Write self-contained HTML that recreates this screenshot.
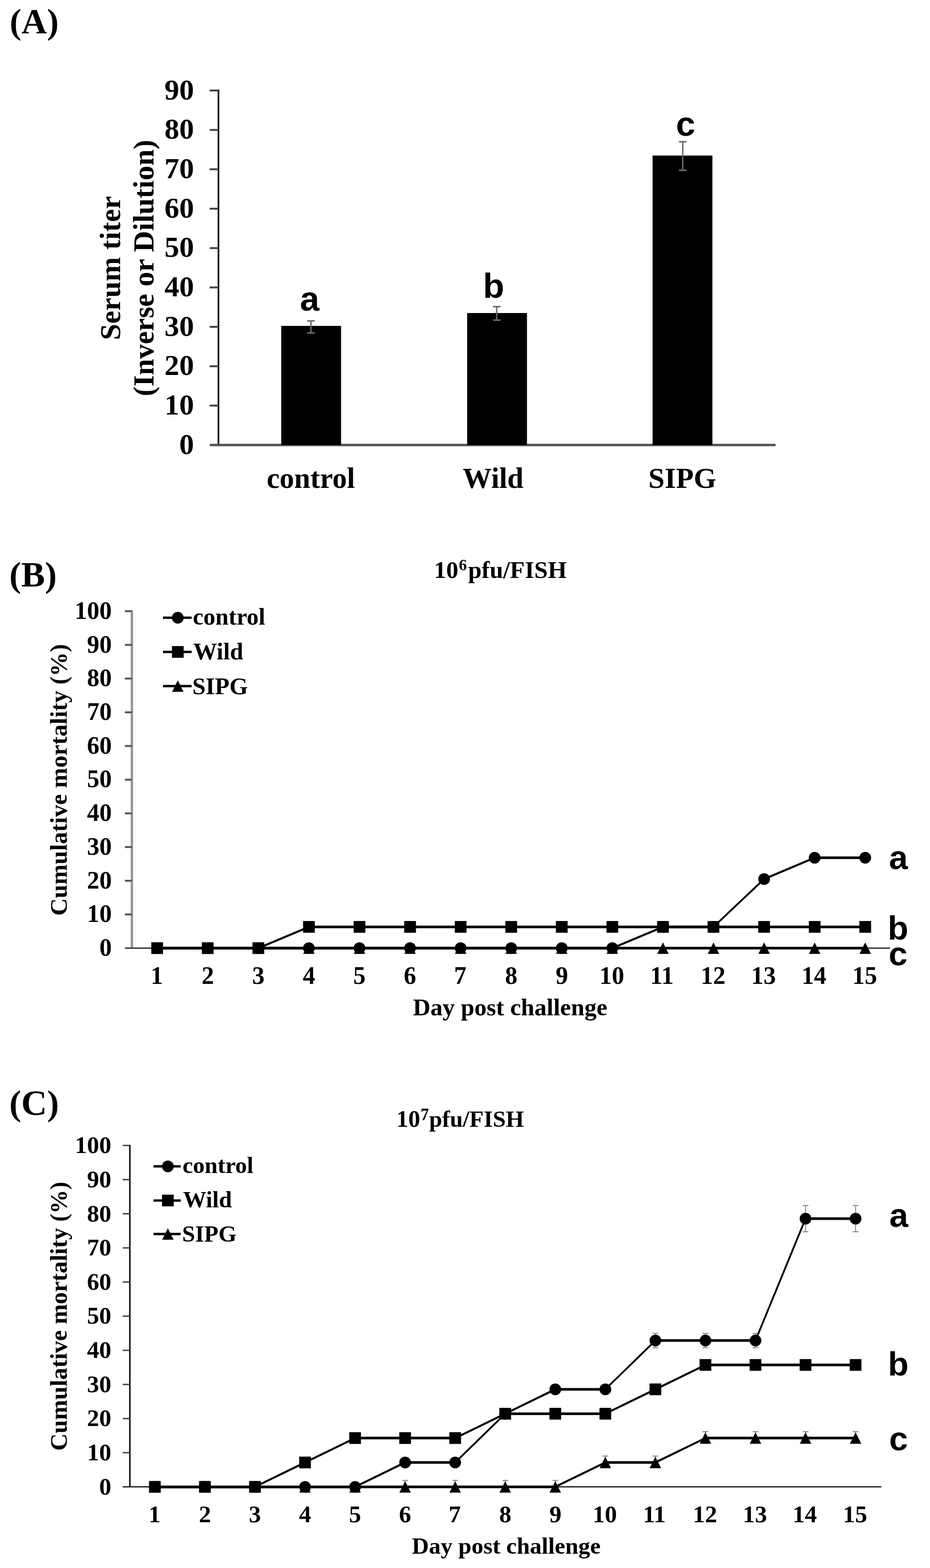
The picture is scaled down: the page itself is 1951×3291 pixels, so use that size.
<!DOCTYPE html>
<html><head><meta charset="utf-8"><title>Figure</title>
<style>html,body{margin:0;padding:0;background:#fff;width:1951px;height:3291px;overflow:hidden;} svg{display:block;}</style></head>
<body>
<svg width="1951" height="3291" viewBox="0 0 1951 3291">
<rect width="1951" height="3291" fill="#fff"/>
<text x="20.3" y="69.6" font-size="74" font-family="'Liberation Serif', 'Times New Roman', serif" font-weight="bold">(A)</text>
<line x1="458.3" y1="188.0" x2="458.3" y2="934.0" stroke="#111" stroke-width="3.5"/>
<text x="376.1" y="952.7" font-size="62" font-family="'Liberation Serif', 'Times New Roman', serif" font-weight="bold">0</text>
<line x1="440.0" y1="851.3" x2="458.3" y2="851.3" stroke="#444" stroke-width="4"/>
<text x="345.1" y="870.0" font-size="62" font-family="'Liberation Serif', 'Times New Roman', serif" font-weight="bold">10</text>
<line x1="440.0" y1="768.7" x2="458.3" y2="768.7" stroke="#444" stroke-width="4"/>
<text x="345.1" y="787.4" font-size="62" font-family="'Liberation Serif', 'Times New Roman', serif" font-weight="bold">20</text>
<line x1="440.0" y1="686.0" x2="458.3" y2="686.0" stroke="#444" stroke-width="4"/>
<text x="345.1" y="704.7" font-size="62" font-family="'Liberation Serif', 'Times New Roman', serif" font-weight="bold">30</text>
<line x1="440.0" y1="603.3" x2="458.3" y2="603.3" stroke="#444" stroke-width="4"/>
<text x="345.1" y="622.0" font-size="62" font-family="'Liberation Serif', 'Times New Roman', serif" font-weight="bold">40</text>
<line x1="440.0" y1="520.7" x2="458.3" y2="520.7" stroke="#444" stroke-width="4"/>
<text x="345.1" y="539.4" font-size="62" font-family="'Liberation Serif', 'Times New Roman', serif" font-weight="bold">50</text>
<line x1="440.0" y1="438.0" x2="458.3" y2="438.0" stroke="#444" stroke-width="4"/>
<text x="345.1" y="456.7" font-size="62" font-family="'Liberation Serif', 'Times New Roman', serif" font-weight="bold">60</text>
<line x1="440.0" y1="355.3" x2="458.3" y2="355.3" stroke="#444" stroke-width="4"/>
<text x="345.1" y="374.0" font-size="62" font-family="'Liberation Serif', 'Times New Roman', serif" font-weight="bold">70</text>
<line x1="440.0" y1="272.7" x2="458.3" y2="272.7" stroke="#444" stroke-width="4"/>
<text x="345.1" y="291.4" font-size="62" font-family="'Liberation Serif', 'Times New Roman', serif" font-weight="bold">80</text>
<line x1="440.0" y1="190.0" x2="458.3" y2="190.0" stroke="#444" stroke-width="4"/>
<text x="345.1" y="208.7" font-size="62" font-family="'Liberation Serif', 'Times New Roman', serif" font-weight="bold">90</text>
<line x1="440.0" y1="934.0" x2="1627.0" y2="934.0" stroke="#505050" stroke-width="5"/>
<rect x="590.0" y="684.0" width="125.5" height="250.0" fill="#000"/>
<rect x="980.0" y="657.0" width="125.5" height="277.0" fill="#000"/>
<rect x="1369.0" y="326.5" width="125.5" height="607.5" fill="#000"/>
<line x1="652.3" y1="673.5" x2="652.3" y2="698.8" stroke="#6a6a6a" stroke-width="3"/>
<line x1="644.3" y1="673.5" x2="660.3" y2="673.5" stroke="#6a6a6a" stroke-width="3.2"/>
<line x1="644.3" y1="698.8" x2="660.3" y2="698.8" stroke="#6a6a6a" stroke-width="3.2"/>
<line x1="1042.0" y1="643.6" x2="1042.0" y2="671.9" stroke="#6a6a6a" stroke-width="3"/>
<line x1="1034.0" y1="643.6" x2="1050.0" y2="643.6" stroke="#6a6a6a" stroke-width="3.2"/>
<line x1="1034.0" y1="671.9" x2="1050.0" y2="671.9" stroke="#6a6a6a" stroke-width="3.2"/>
<line x1="1432.3" y1="297.5" x2="1432.3" y2="357.5" stroke="#6a6a6a" stroke-width="3"/>
<line x1="1424.3" y1="297.5" x2="1440.3" y2="297.5" stroke="#6a6a6a" stroke-width="3.2"/>
<line x1="1424.3" y1="357.5" x2="1440.3" y2="357.5" stroke="#6a6a6a" stroke-width="3.2"/>
<text x="629.3" y="652.3" font-size="73" font-family="'Liberation Sans', Arial, sans-serif" font-weight="bold">a</text>
<text x="1013.2" y="625.1" font-size="73" font-family="'Liberation Sans', Arial, sans-serif" font-weight="bold">b</text>
<text x="1418.0" y="284.7" font-size="73" font-family="'Liberation Sans', Arial, sans-serif" font-weight="bold">c</text>
<text x="559.5" y="1024.0" font-size="61" font-family="'Liberation Serif', 'Times New Roman', serif" font-weight="bold">control</text>
<text x="970.5" y="1024.0" font-size="61" font-family="'Liberation Serif', 'Times New Roman', serif" font-weight="bold">Wild</text>
<text x="1360.3" y="1024.0" font-size="61" font-family="'Liberation Serif', 'Times New Roman', serif" font-weight="bold">SIPG</text>
<g transform="translate(251.5,562.5) rotate(-90)">
<text x="0.0" y="0.0" font-size="61.5" font-family="'Liberation Serif', 'Times New Roman', serif" font-weight="bold" text-anchor="middle">Serum titer</text>
<text x="0.0" y="70.5" font-size="61.5" font-family="'Liberation Serif', 'Times New Roman', serif" font-weight="bold" text-anchor="middle">(Inverse or Dilution)</text>
</g>
<text x="19.6" y="1230.5" font-size="74.7" font-family="'Liberation Serif', 'Times New Roman', serif" font-weight="bold">(B)</text>
<text y="1213.3" font-family="'Liberation Serif', 'Times New Roman', serif" font-weight="bold"><tspan x="910.5" font-size="51">10</tspan><tspan x="962.4" y="1197" font-size="34">6</tspan><tspan x="981.9" y="1213.3" font-size="51">pfu/FISH</tspan></text>
<line x1="276.7" y1="1281.3" x2="276.7" y2="1990.0" stroke="#959595" stroke-width="5"/>
<text x="208.5" y="2006.0" font-size="52" font-family="'Liberation Serif', 'Times New Roman', serif" font-weight="bold">0</text>
<line x1="262.0" y1="1919.3" x2="276.7" y2="1919.3" stroke="#555" stroke-width="4"/>
<text x="182.5" y="1935.3" font-size="52" font-family="'Liberation Serif', 'Times New Roman', serif" font-weight="bold">10</text>
<line x1="262.0" y1="1848.6" x2="276.7" y2="1848.6" stroke="#555" stroke-width="4"/>
<text x="182.5" y="1864.6" font-size="52" font-family="'Liberation Serif', 'Times New Roman', serif" font-weight="bold">20</text>
<line x1="262.0" y1="1777.8" x2="276.7" y2="1777.8" stroke="#555" stroke-width="4"/>
<text x="182.5" y="1793.8" font-size="52" font-family="'Liberation Serif', 'Times New Roman', serif" font-weight="bold">30</text>
<line x1="262.0" y1="1707.1" x2="276.7" y2="1707.1" stroke="#555" stroke-width="4"/>
<text x="182.5" y="1723.1" font-size="52" font-family="'Liberation Serif', 'Times New Roman', serif" font-weight="bold">40</text>
<line x1="262.0" y1="1636.4" x2="276.7" y2="1636.4" stroke="#555" stroke-width="4"/>
<text x="182.5" y="1652.4" font-size="52" font-family="'Liberation Serif', 'Times New Roman', serif" font-weight="bold">50</text>
<line x1="262.0" y1="1565.7" x2="276.7" y2="1565.7" stroke="#555" stroke-width="4"/>
<text x="182.5" y="1581.7" font-size="52" font-family="'Liberation Serif', 'Times New Roman', serif" font-weight="bold">60</text>
<line x1="262.0" y1="1495.0" x2="276.7" y2="1495.0" stroke="#555" stroke-width="4"/>
<text x="182.5" y="1511.0" font-size="52" font-family="'Liberation Serif', 'Times New Roman', serif" font-weight="bold">70</text>
<line x1="262.0" y1="1424.2" x2="276.7" y2="1424.2" stroke="#555" stroke-width="4"/>
<text x="182.5" y="1440.2" font-size="52" font-family="'Liberation Serif', 'Times New Roman', serif" font-weight="bold">80</text>
<line x1="262.0" y1="1353.5" x2="276.7" y2="1353.5" stroke="#555" stroke-width="4"/>
<text x="182.5" y="1369.5" font-size="52" font-family="'Liberation Serif', 'Times New Roman', serif" font-weight="bold">90</text>
<line x1="262.0" y1="1282.8" x2="276.7" y2="1282.8" stroke="#555" stroke-width="4"/>
<text x="156.5" y="1298.8" font-size="52" font-family="'Liberation Serif', 'Times New Roman', serif" font-weight="bold">100</text>
<line x1="262.0" y1="1990.0" x2="1867.0" y2="1990.0" stroke="#333" stroke-width="3"/>
<text x="316.0" y="2064.5" font-size="52" font-family="'Liberation Serif', 'Times New Roman', serif" font-weight="bold">1</text>
<text x="422.9" y="2064.5" font-size="52" font-family="'Liberation Serif', 'Times New Roman', serif" font-weight="bold">2</text>
<text x="528.9" y="2064.5" font-size="52" font-family="'Liberation Serif', 'Times New Roman', serif" font-weight="bold">3</text>
<text x="635.2" y="2064.5" font-size="52" font-family="'Liberation Serif', 'Times New Roman', serif" font-weight="bold">4</text>
<text x="741.1" y="2064.5" font-size="52" font-family="'Liberation Serif', 'Times New Roman', serif" font-weight="bold">5</text>
<text x="847.1" y="2064.5" font-size="52" font-family="'Liberation Serif', 'Times New Roman', serif" font-weight="bold">6</text>
<text x="952.5" y="2064.5" font-size="52" font-family="'Liberation Serif', 'Times New Roman', serif" font-weight="bold">7</text>
<text x="1059.5" y="2064.5" font-size="52" font-family="'Liberation Serif', 'Times New Roman', serif" font-weight="bold">8</text>
<text x="1165.8" y="2064.5" font-size="52" font-family="'Liberation Serif', 'Times New Roman', serif" font-weight="bold">9</text>
<text x="1257.6" y="2064.5" font-size="52" font-family="'Liberation Serif', 'Times New Roman', serif" font-weight="bold">10</text>
<text x="1364.0" y="2064.5" font-size="52" font-family="'Liberation Serif', 'Times New Roman', serif" font-weight="bold">11</text>
<text x="1469.9" y="2064.5" font-size="52" font-family="'Liberation Serif', 'Times New Roman', serif" font-weight="bold">12</text>
<text x="1575.8" y="2064.5" font-size="52" font-family="'Liberation Serif', 'Times New Roman', serif" font-weight="bold">13</text>
<text x="1681.5" y="2064.5" font-size="52" font-family="'Liberation Serif', 'Times New Roman', serif" font-weight="bold">14</text>
<text x="1788.0" y="2064.5" font-size="52" font-family="'Liberation Serif', 'Times New Roman', serif" font-weight="bold">15</text>
<line x1="329.8" y1="1990.0" x2="435.8" y2="1990.0" stroke="#000" stroke-width="5.50" stroke-linecap="round"/>
<line x1="435.8" y1="1990.0" x2="542.0" y2="1990.0" stroke="#000" stroke-width="5.50" stroke-linecap="round"/>
<line x1="542.0" y1="1990.0" x2="648.0" y2="1990.0" stroke="#000" stroke-width="5.50" stroke-linecap="round"/>
<line x1="648.0" y1="1990.0" x2="754.1" y2="1990.0" stroke="#000" stroke-width="5.50" stroke-linecap="round"/>
<line x1="754.1" y1="1990.0" x2="860.2" y2="1990.0" stroke="#000" stroke-width="5.50" stroke-linecap="round"/>
<line x1="860.2" y1="1990.0" x2="966.3" y2="1990.0" stroke="#000" stroke-width="5.50" stroke-linecap="round"/>
<line x1="966.3" y1="1990.0" x2="1072.5" y2="1990.0" stroke="#000" stroke-width="5.50" stroke-linecap="round"/>
<line x1="1072.5" y1="1990.0" x2="1178.5" y2="1990.0" stroke="#000" stroke-width="5.50" stroke-linecap="round"/>
<line x1="1178.5" y1="1990.0" x2="1284.6" y2="1990.0" stroke="#000" stroke-width="5.50" stroke-linecap="round"/>
<line x1="1284.6" y1="1990.0" x2="1390.8" y2="1990.0" stroke="#000" stroke-width="5.50" stroke-linecap="round"/>
<line x1="1390.8" y1="1990.0" x2="1496.8" y2="1990.0" stroke="#000" stroke-width="5.50" stroke-linecap="round"/>
<line x1="1496.8" y1="1990.0" x2="1603.0" y2="1990.0" stroke="#000" stroke-width="5.50" stroke-linecap="round"/>
<line x1="1603.0" y1="1990.0" x2="1709.0" y2="1990.0" stroke="#000" stroke-width="5.50" stroke-linecap="round"/>
<line x1="1709.0" y1="1990.0" x2="1815.1" y2="1990.0" stroke="#000" stroke-width="5.50" stroke-linecap="round"/>
<line x1="329.8" y1="1990.0" x2="435.8" y2="1990.0" stroke="#000" stroke-width="5.50" stroke-linecap="round"/>
<line x1="435.8" y1="1990.0" x2="542.0" y2="1990.0" stroke="#000" stroke-width="5.50" stroke-linecap="round"/>
<line x1="542.0" y1="1990.0" x2="648.0" y2="1945.4" stroke="#000" stroke-width="4.37" stroke-linecap="round"/>
<line x1="648.0" y1="1945.4" x2="754.1" y2="1945.4" stroke="#000" stroke-width="5.50" stroke-linecap="round"/>
<line x1="754.1" y1="1945.4" x2="860.2" y2="1945.4" stroke="#000" stroke-width="5.50" stroke-linecap="round"/>
<line x1="860.2" y1="1945.4" x2="966.3" y2="1945.4" stroke="#000" stroke-width="5.50" stroke-linecap="round"/>
<line x1="966.3" y1="1945.4" x2="1072.5" y2="1945.4" stroke="#000" stroke-width="5.50" stroke-linecap="round"/>
<line x1="1072.5" y1="1945.4" x2="1178.5" y2="1945.4" stroke="#000" stroke-width="5.50" stroke-linecap="round"/>
<line x1="1178.5" y1="1945.4" x2="1284.6" y2="1945.4" stroke="#000" stroke-width="5.50" stroke-linecap="round"/>
<line x1="1284.6" y1="1945.4" x2="1390.8" y2="1945.4" stroke="#000" stroke-width="5.50" stroke-linecap="round"/>
<line x1="1390.8" y1="1945.4" x2="1496.8" y2="1945.4" stroke="#000" stroke-width="5.50" stroke-linecap="round"/>
<line x1="1496.8" y1="1945.4" x2="1603.0" y2="1945.4" stroke="#000" stroke-width="5.50" stroke-linecap="round"/>
<line x1="1603.0" y1="1945.4" x2="1709.0" y2="1945.4" stroke="#000" stroke-width="5.50" stroke-linecap="round"/>
<line x1="1709.0" y1="1945.4" x2="1815.1" y2="1945.4" stroke="#000" stroke-width="5.50" stroke-linecap="round"/>
<line x1="329.8" y1="1990.0" x2="435.8" y2="1990.0" stroke="#000" stroke-width="5.50" stroke-linecap="round"/>
<line x1="435.8" y1="1990.0" x2="542.0" y2="1990.0" stroke="#000" stroke-width="5.50" stroke-linecap="round"/>
<line x1="542.0" y1="1990.0" x2="648.0" y2="1990.0" stroke="#000" stroke-width="5.50" stroke-linecap="round"/>
<line x1="648.0" y1="1990.0" x2="754.1" y2="1990.0" stroke="#000" stroke-width="5.50" stroke-linecap="round"/>
<line x1="754.1" y1="1990.0" x2="860.2" y2="1990.0" stroke="#000" stroke-width="5.50" stroke-linecap="round"/>
<line x1="860.2" y1="1990.0" x2="966.3" y2="1990.0" stroke="#000" stroke-width="5.50" stroke-linecap="round"/>
<line x1="966.3" y1="1990.0" x2="1072.5" y2="1990.0" stroke="#000" stroke-width="5.50" stroke-linecap="round"/>
<line x1="1072.5" y1="1990.0" x2="1178.5" y2="1990.0" stroke="#000" stroke-width="5.50" stroke-linecap="round"/>
<line x1="1178.5" y1="1990.0" x2="1284.6" y2="1990.0" stroke="#000" stroke-width="5.50" stroke-linecap="round"/>
<line x1="1284.6" y1="1990.0" x2="1390.8" y2="1945.4" stroke="#000" stroke-width="4.37" stroke-linecap="round"/>
<line x1="1390.8" y1="1945.4" x2="1496.8" y2="1945.4" stroke="#000" stroke-width="5.50" stroke-linecap="round"/>
<line x1="1496.8" y1="1945.4" x2="1603.0" y2="1845.0" stroke="#000" stroke-width="3.80" stroke-linecap="round"/>
<line x1="1603.0" y1="1845.0" x2="1709.0" y2="1800.3" stroke="#000" stroke-width="4.37" stroke-linecap="round"/>
<line x1="1709.0" y1="1800.3" x2="1815.1" y2="1800.3" stroke="#000" stroke-width="5.50" stroke-linecap="round"/>
<polygon points="329.8,1978.0 341.8,2002.0 317.8,2002.0" fill="#000"/>
<polygon points="435.8,1978.0 447.8,2002.0 423.8,2002.0" fill="#000"/>
<polygon points="542.0,1978.0 554.0,2002.0 530.0,2002.0" fill="#000"/>
<polygon points="648.0,1978.0 660.0,2002.0 636.0,2002.0" fill="#000"/>
<polygon points="754.1,1978.0 766.1,2002.0 742.1,2002.0" fill="#000"/>
<polygon points="860.2,1978.0 872.2,2002.0 848.2,2002.0" fill="#000"/>
<polygon points="966.3,1978.0 978.3,2002.0 954.3,2002.0" fill="#000"/>
<polygon points="1072.5,1978.0 1084.5,2002.0 1060.5,2002.0" fill="#000"/>
<polygon points="1178.5,1978.0 1190.5,2002.0 1166.5,2002.0" fill="#000"/>
<polygon points="1284.6,1978.0 1296.6,2002.0 1272.6,2002.0" fill="#000"/>
<polygon points="1390.8,1978.0 1402.8,2002.0 1378.8,2002.0" fill="#000"/>
<polygon points="1496.8,1978.0 1508.8,2002.0 1484.8,2002.0" fill="#000"/>
<polygon points="1603.0,1978.0 1615.0,2002.0 1591.0,2002.0" fill="#000"/>
<polygon points="1709.0,1978.0 1721.0,2002.0 1697.0,2002.0" fill="#000"/>
<polygon points="1815.1,1978.0 1827.1,2002.0 1803.1,2002.0" fill="#000"/>
<rect x="317.4" y="1977.7" width="24.6" height="24.6" fill="#000"/>
<rect x="423.5" y="1977.7" width="24.6" height="24.6" fill="#000"/>
<rect x="529.7" y="1977.7" width="24.6" height="24.6" fill="#000"/>
<rect x="635.8" y="1933.1" width="24.6" height="24.6" fill="#000"/>
<rect x="741.9" y="1933.1" width="24.6" height="24.6" fill="#000"/>
<rect x="848.0" y="1933.1" width="24.6" height="24.6" fill="#000"/>
<rect x="954.0" y="1933.1" width="24.6" height="24.6" fill="#000"/>
<rect x="1060.2" y="1933.1" width="24.6" height="24.6" fill="#000"/>
<rect x="1166.2" y="1933.1" width="24.6" height="24.6" fill="#000"/>
<rect x="1272.3" y="1933.1" width="24.6" height="24.6" fill="#000"/>
<rect x="1378.5" y="1933.1" width="24.6" height="24.6" fill="#000"/>
<rect x="1484.5" y="1933.1" width="24.6" height="24.6" fill="#000"/>
<rect x="1590.7" y="1933.1" width="24.6" height="24.6" fill="#000"/>
<rect x="1696.8" y="1933.1" width="24.6" height="24.6" fill="#000"/>
<rect x="1802.8" y="1933.1" width="24.6" height="24.6" fill="#000"/>
<circle cx="329.8" cy="1990.0" r="12.3" fill="#000"/>
<circle cx="435.8" cy="1990.0" r="12.3" fill="#000"/>
<circle cx="542.0" cy="1990.0" r="12.3" fill="#000"/>
<circle cx="648.0" cy="1990.0" r="12.3" fill="#000"/>
<circle cx="754.1" cy="1990.0" r="12.3" fill="#000"/>
<circle cx="860.2" cy="1990.0" r="12.3" fill="#000"/>
<circle cx="966.3" cy="1990.0" r="12.3" fill="#000"/>
<circle cx="1072.5" cy="1990.0" r="12.3" fill="#000"/>
<circle cx="1178.5" cy="1990.0" r="12.3" fill="#000"/>
<circle cx="1284.6" cy="1990.0" r="12.3" fill="#000"/>
<circle cx="1390.8" cy="1945.4" r="12.3" fill="#000"/>
<circle cx="1496.8" cy="1945.4" r="12.3" fill="#000"/>
<circle cx="1603.0" cy="1845.0" r="12.3" fill="#000"/>
<circle cx="1709.0" cy="1800.3" r="12.3" fill="#000"/>
<circle cx="1815.1" cy="1800.3" r="12.3" fill="#000"/>
<line x1="342.0" y1="1296.5" x2="402.0" y2="1296.5" stroke="#000" stroke-width="5"/>
<circle cx="373.0" cy="1296.5" r="12.3" fill="#000"/>
<text x="404.5" y="1311.4" font-size="50" font-family="'Liberation Serif', 'Times New Roman', serif" font-weight="bold">control</text>
<line x1="342.0" y1="1368.3" x2="402.0" y2="1368.3" stroke="#000" stroke-width="5"/>
<rect x="360.7" y="1356.0" width="24.6" height="24.6" fill="#000"/>
<text x="405.5" y="1383.6" font-size="50" font-family="'Liberation Serif', 'Times New Roman', serif" font-weight="bold">Wild</text>
<line x1="342.0" y1="1440.0" x2="402.0" y2="1440.0" stroke="#000" stroke-width="5"/>
<polygon points="373.0,1428.0 385.0,1452.0 361.0,1452.0" fill="#000"/>
<text x="403.5" y="1456.7" font-size="50" font-family="'Liberation Serif', 'Times New Roman', serif" font-weight="bold">SIPG</text>
<text x="1864.9" y="1823.7" font-size="71" font-family="'Liberation Sans', Arial, sans-serif" font-weight="bold">a</text>
<text x="1862.3" y="1972.3" font-size="71" font-family="'Liberation Sans', Arial, sans-serif" font-weight="bold">b</text>
<text x="1864.2" y="2026.3" font-size="71" font-family="'Liberation Sans', Arial, sans-serif" font-weight="bold">c</text>
<text x="866.2" y="2131.2" font-size="51" font-family="'Liberation Serif', 'Times New Roman', serif" font-weight="bold">Day post challenge</text>
<g transform="translate(140.3,1636.9) rotate(-90)">
<text x="0.0" y="0.0" font-size="51.1" font-family="'Liberation Serif', 'Times New Roman', serif" font-weight="bold" text-anchor="middle">Cumulative mortality (%)</text>
</g>
<text x="19.6" y="2340.0" font-size="75" font-family="'Liberation Serif', 'Times New Roman', serif" font-weight="bold">(C)</text>
<text y="2364.6" font-family="'Liberation Serif', 'Times New Roman', serif" font-weight="bold"><tspan x="831.6" font-size="50">10</tspan><tspan x="882.2" y="2350.6" font-size="35">7</tspan><tspan x="900.3" y="2364.6" font-size="49">pfu/FISH</tspan></text>
<line x1="272.4" y1="2402.7" x2="272.4" y2="3120.7" stroke="#111" stroke-width="3.2"/>
<text x="207.9" y="3136.7" font-size="51" font-family="'Liberation Serif', 'Times New Roman', serif" font-weight="bold">0</text>
<line x1="257.6" y1="3049.0" x2="272.4" y2="3049.0" stroke="#444" stroke-width="3"/>
<text x="182.4" y="3065.0" font-size="51" font-family="'Liberation Serif', 'Times New Roman', serif" font-weight="bold">10</text>
<line x1="257.6" y1="2977.4" x2="272.4" y2="2977.4" stroke="#444" stroke-width="3"/>
<text x="182.4" y="2993.4" font-size="51" font-family="'Liberation Serif', 'Times New Roman', serif" font-weight="bold">20</text>
<line x1="257.6" y1="2905.8" x2="272.4" y2="2905.8" stroke="#444" stroke-width="3"/>
<text x="182.4" y="2921.8" font-size="51" font-family="'Liberation Serif', 'Times New Roman', serif" font-weight="bold">30</text>
<line x1="257.6" y1="2834.1" x2="272.4" y2="2834.1" stroke="#444" stroke-width="3"/>
<text x="182.4" y="2850.1" font-size="51" font-family="'Liberation Serif', 'Times New Roman', serif" font-weight="bold">40</text>
<line x1="257.6" y1="2762.4" x2="272.4" y2="2762.4" stroke="#444" stroke-width="3"/>
<text x="182.4" y="2778.4" font-size="51" font-family="'Liberation Serif', 'Times New Roman', serif" font-weight="bold">50</text>
<line x1="257.6" y1="2690.8" x2="272.4" y2="2690.8" stroke="#444" stroke-width="3"/>
<text x="182.4" y="2706.8" font-size="51" font-family="'Liberation Serif', 'Times New Roman', serif" font-weight="bold">60</text>
<line x1="257.6" y1="2619.1" x2="272.4" y2="2619.1" stroke="#444" stroke-width="3"/>
<text x="182.4" y="2635.1" font-size="51" font-family="'Liberation Serif', 'Times New Roman', serif" font-weight="bold">70</text>
<line x1="257.6" y1="2547.5" x2="272.4" y2="2547.5" stroke="#444" stroke-width="3"/>
<text x="182.4" y="2563.5" font-size="51" font-family="'Liberation Serif', 'Times New Roman', serif" font-weight="bold">80</text>
<line x1="257.6" y1="2475.8" x2="272.4" y2="2475.8" stroke="#444" stroke-width="3"/>
<text x="182.4" y="2491.8" font-size="51" font-family="'Liberation Serif', 'Times New Roman', serif" font-weight="bold">90</text>
<line x1="257.6" y1="2404.2" x2="272.4" y2="2404.2" stroke="#444" stroke-width="3"/>
<text x="156.9" y="2420.2" font-size="51" font-family="'Liberation Serif', 'Times New Roman', serif" font-weight="bold">100</text>
<line x1="257.6" y1="3120.7" x2="1848.8" y2="3120.7" stroke="#222" stroke-width="2.8"/>
<text x="311.4" y="3194.8" font-size="51" font-family="'Liberation Serif', 'Times New Roman', serif" font-weight="bold">1</text>
<text x="417.2" y="3194.8" font-size="51" font-family="'Liberation Serif', 'Times New Roman', serif" font-weight="bold">2</text>
<text x="522.1" y="3194.8" font-size="51" font-family="'Liberation Serif', 'Times New Roman', serif" font-weight="bold">3</text>
<text x="627.3" y="3194.8" font-size="51" font-family="'Liberation Serif', 'Times New Roman', serif" font-weight="bold">4</text>
<text x="732.1" y="3194.8" font-size="51" font-family="'Liberation Serif', 'Times New Roman', serif" font-weight="bold">5</text>
<text x="837.0" y="3194.8" font-size="51" font-family="'Liberation Serif', 'Times New Roman', serif" font-weight="bold">6</text>
<text x="941.3" y="3194.8" font-size="51" font-family="'Liberation Serif', 'Times New Roman', serif" font-weight="bold">7</text>
<text x="1047.2" y="3194.8" font-size="51" font-family="'Liberation Serif', 'Times New Roman', serif" font-weight="bold">8</text>
<text x="1152.4" y="3194.8" font-size="51" font-family="'Liberation Serif', 'Times New Roman', serif" font-weight="bold">9</text>
<text x="1243.3" y="3194.8" font-size="51" font-family="'Liberation Serif', 'Times New Roman', serif" font-weight="bold">10</text>
<text x="1348.7" y="3194.8" font-size="51" font-family="'Liberation Serif', 'Times New Roman', serif" font-weight="bold">11</text>
<text x="1453.5" y="3194.8" font-size="51" font-family="'Liberation Serif', 'Times New Roman', serif" font-weight="bold">12</text>
<text x="1558.2" y="3194.8" font-size="51" font-family="'Liberation Serif', 'Times New Roman', serif" font-weight="bold">13</text>
<text x="1662.8" y="3194.8" font-size="51" font-family="'Liberation Serif', 'Times New Roman', serif" font-weight="bold">14</text>
<text x="1768.3" y="3194.8" font-size="51" font-family="'Liberation Serif', 'Times New Roman', serif" font-weight="bold">15</text>
<line x1="1374.9" y1="2798.6" x2="1374.9" y2="2828.6" stroke="#8a8a8a" stroke-width="2"/>
<line x1="1368.9" y1="2798.6" x2="1380.9" y2="2798.6" stroke="#8a8a8a" stroke-width="2.2"/>
<line x1="1368.9" y1="2828.6" x2="1380.9" y2="2828.6" stroke="#8a8a8a" stroke-width="2.2"/>
<line x1="1479.9" y1="2798.6" x2="1479.9" y2="2828.6" stroke="#8a8a8a" stroke-width="2"/>
<line x1="1473.9" y1="2798.6" x2="1485.9" y2="2798.6" stroke="#8a8a8a" stroke-width="2.2"/>
<line x1="1473.9" y1="2828.6" x2="1485.9" y2="2828.6" stroke="#8a8a8a" stroke-width="2.2"/>
<line x1="1584.9" y1="2798.6" x2="1584.9" y2="2828.6" stroke="#8a8a8a" stroke-width="2"/>
<line x1="1578.9" y1="2798.6" x2="1590.9" y2="2798.6" stroke="#8a8a8a" stroke-width="2.2"/>
<line x1="1578.9" y1="2828.6" x2="1590.9" y2="2828.6" stroke="#8a8a8a" stroke-width="2.2"/>
<line x1="1689.9" y1="2530.2" x2="1689.9" y2="2585.2" stroke="#8a8a8a" stroke-width="2"/>
<line x1="1683.9" y1="2530.2" x2="1695.9" y2="2530.2" stroke="#8a8a8a" stroke-width="2.2"/>
<line x1="1683.9" y1="2585.2" x2="1695.9" y2="2585.2" stroke="#8a8a8a" stroke-width="2.2"/>
<line x1="1794.9" y1="2530.2" x2="1794.9" y2="2585.2" stroke="#8a8a8a" stroke-width="2"/>
<line x1="1788.9" y1="2530.2" x2="1800.9" y2="2530.2" stroke="#8a8a8a" stroke-width="2.2"/>
<line x1="1788.9" y1="2585.2" x2="1800.9" y2="2585.2" stroke="#8a8a8a" stroke-width="2.2"/>
<line x1="849.9" y1="3107.2" x2="849.9" y2="3120.7" stroke="#8a8a8a" stroke-width="2"/>
<line x1="843.9" y1="3107.2" x2="855.9" y2="3107.2" stroke="#8a8a8a" stroke-width="2.2"/>
<line x1="954.9" y1="3107.2" x2="954.9" y2="3120.7" stroke="#8a8a8a" stroke-width="2"/>
<line x1="948.9" y1="3107.2" x2="960.9" y2="3107.2" stroke="#8a8a8a" stroke-width="2.2"/>
<line x1="1059.9" y1="3107.2" x2="1059.9" y2="3120.7" stroke="#8a8a8a" stroke-width="2"/>
<line x1="1053.9" y1="3107.2" x2="1065.9" y2="3107.2" stroke="#8a8a8a" stroke-width="2.2"/>
<line x1="1164.9" y1="3107.2" x2="1164.9" y2="3120.7" stroke="#8a8a8a" stroke-width="2"/>
<line x1="1158.9" y1="3107.2" x2="1170.9" y2="3107.2" stroke="#8a8a8a" stroke-width="2.2"/>
<line x1="1269.9" y1="3056.0" x2="1269.9" y2="3069.5" stroke="#8a8a8a" stroke-width="2"/>
<line x1="1263.9" y1="3056.0" x2="1275.9" y2="3056.0" stroke="#8a8a8a" stroke-width="2.2"/>
<line x1="1374.9" y1="3056.0" x2="1374.9" y2="3069.5" stroke="#8a8a8a" stroke-width="2"/>
<line x1="1368.9" y1="3056.0" x2="1380.9" y2="3056.0" stroke="#8a8a8a" stroke-width="2.2"/>
<line x1="1479.9" y1="3004.8" x2="1479.9" y2="3018.3" stroke="#8a8a8a" stroke-width="2"/>
<line x1="1473.9" y1="3004.8" x2="1485.9" y2="3004.8" stroke="#8a8a8a" stroke-width="2.2"/>
<line x1="1584.9" y1="3004.8" x2="1584.9" y2="3018.3" stroke="#8a8a8a" stroke-width="2"/>
<line x1="1578.9" y1="3004.8" x2="1590.9" y2="3004.8" stroke="#8a8a8a" stroke-width="2.2"/>
<line x1="1689.9" y1="3004.8" x2="1689.9" y2="3018.3" stroke="#8a8a8a" stroke-width="2"/>
<line x1="1683.9" y1="3004.8" x2="1695.9" y2="3004.8" stroke="#8a8a8a" stroke-width="2.2"/>
<line x1="1794.9" y1="3004.8" x2="1794.9" y2="3018.3" stroke="#8a8a8a" stroke-width="2"/>
<line x1="1788.9" y1="3004.8" x2="1800.9" y2="3004.8" stroke="#8a8a8a" stroke-width="2.2"/>
<line x1="324.9" y1="3120.7" x2="429.9" y2="3120.7" stroke="#000" stroke-width="5.50" stroke-linecap="round"/>
<line x1="429.9" y1="3120.7" x2="534.9" y2="3120.7" stroke="#000" stroke-width="5.50" stroke-linecap="round"/>
<line x1="534.9" y1="3120.7" x2="639.9" y2="3120.7" stroke="#000" stroke-width="5.50" stroke-linecap="round"/>
<line x1="639.9" y1="3120.7" x2="744.9" y2="3120.7" stroke="#000" stroke-width="5.50" stroke-linecap="round"/>
<line x1="744.9" y1="3120.7" x2="849.9" y2="3120.7" stroke="#000" stroke-width="5.50" stroke-linecap="round"/>
<line x1="849.9" y1="3120.7" x2="954.9" y2="3120.7" stroke="#000" stroke-width="5.50" stroke-linecap="round"/>
<line x1="954.9" y1="3120.7" x2="1059.9" y2="3120.7" stroke="#000" stroke-width="5.50" stroke-linecap="round"/>
<line x1="1059.9" y1="3120.7" x2="1164.9" y2="3120.7" stroke="#000" stroke-width="5.50" stroke-linecap="round"/>
<line x1="1164.9" y1="3120.7" x2="1269.9" y2="3069.5" stroke="#000" stroke-width="4.22" stroke-linecap="round"/>
<line x1="1269.9" y1="3069.5" x2="1374.9" y2="3069.5" stroke="#000" stroke-width="5.50" stroke-linecap="round"/>
<line x1="1374.9" y1="3069.5" x2="1479.9" y2="3018.3" stroke="#000" stroke-width="4.22" stroke-linecap="round"/>
<line x1="1479.9" y1="3018.3" x2="1584.9" y2="3018.3" stroke="#000" stroke-width="5.50" stroke-linecap="round"/>
<line x1="1584.9" y1="3018.3" x2="1689.9" y2="3018.3" stroke="#000" stroke-width="5.50" stroke-linecap="round"/>
<line x1="1689.9" y1="3018.3" x2="1794.9" y2="3018.3" stroke="#000" stroke-width="5.50" stroke-linecap="round"/>
<line x1="324.9" y1="3120.7" x2="429.9" y2="3120.7" stroke="#000" stroke-width="5.50" stroke-linecap="round"/>
<line x1="429.9" y1="3120.7" x2="534.9" y2="3120.7" stroke="#000" stroke-width="5.50" stroke-linecap="round"/>
<line x1="534.9" y1="3120.7" x2="639.9" y2="3069.5" stroke="#000" stroke-width="4.22" stroke-linecap="round"/>
<line x1="639.9" y1="3069.5" x2="744.9" y2="3018.3" stroke="#000" stroke-width="4.22" stroke-linecap="round"/>
<line x1="744.9" y1="3018.3" x2="849.9" y2="3018.3" stroke="#000" stroke-width="5.50" stroke-linecap="round"/>
<line x1="849.9" y1="3018.3" x2="954.9" y2="3018.3" stroke="#000" stroke-width="5.50" stroke-linecap="round"/>
<line x1="954.9" y1="3018.3" x2="1059.9" y2="2967.2" stroke="#000" stroke-width="4.22" stroke-linecap="round"/>
<line x1="1059.9" y1="2967.2" x2="1164.9" y2="2967.2" stroke="#000" stroke-width="5.50" stroke-linecap="round"/>
<line x1="1164.9" y1="2967.2" x2="1269.9" y2="2967.2" stroke="#000" stroke-width="5.50" stroke-linecap="round"/>
<line x1="1269.9" y1="2967.2" x2="1374.9" y2="2916.0" stroke="#000" stroke-width="4.22" stroke-linecap="round"/>
<line x1="1374.9" y1="2916.0" x2="1479.9" y2="2864.8" stroke="#000" stroke-width="4.22" stroke-linecap="round"/>
<line x1="1479.9" y1="2864.8" x2="1584.9" y2="2864.8" stroke="#000" stroke-width="5.50" stroke-linecap="round"/>
<line x1="1584.9" y1="2864.8" x2="1689.9" y2="2864.8" stroke="#000" stroke-width="5.50" stroke-linecap="round"/>
<line x1="1689.9" y1="2864.8" x2="1794.9" y2="2864.8" stroke="#000" stroke-width="5.50" stroke-linecap="round"/>
<line x1="324.9" y1="3120.7" x2="429.9" y2="3120.7" stroke="#000" stroke-width="5.50" stroke-linecap="round"/>
<line x1="429.9" y1="3120.7" x2="534.9" y2="3120.7" stroke="#000" stroke-width="5.50" stroke-linecap="round"/>
<line x1="534.9" y1="3120.7" x2="639.9" y2="3120.7" stroke="#000" stroke-width="5.50" stroke-linecap="round"/>
<line x1="639.9" y1="3120.7" x2="744.9" y2="3120.7" stroke="#000" stroke-width="5.50" stroke-linecap="round"/>
<line x1="744.9" y1="3120.7" x2="849.9" y2="3069.5" stroke="#000" stroke-width="4.22" stroke-linecap="round"/>
<line x1="849.9" y1="3069.5" x2="954.9" y2="3069.5" stroke="#000" stroke-width="5.50" stroke-linecap="round"/>
<line x1="954.9" y1="3069.5" x2="1059.9" y2="2967.2" stroke="#000" stroke-width="3.80" stroke-linecap="round"/>
<line x1="1059.9" y1="2967.2" x2="1164.9" y2="2916.0" stroke="#000" stroke-width="4.22" stroke-linecap="round"/>
<line x1="1164.9" y1="2916.0" x2="1269.9" y2="2916.0" stroke="#000" stroke-width="5.50" stroke-linecap="round"/>
<line x1="1269.9" y1="2916.0" x2="1374.9" y2="2813.6" stroke="#000" stroke-width="3.80" stroke-linecap="round"/>
<line x1="1374.9" y1="2813.6" x2="1479.9" y2="2813.6" stroke="#000" stroke-width="5.50" stroke-linecap="round"/>
<line x1="1479.9" y1="2813.6" x2="1584.9" y2="2813.6" stroke="#000" stroke-width="5.50" stroke-linecap="round"/>
<line x1="1584.9" y1="2813.6" x2="1689.9" y2="2557.7" stroke="#000" stroke-width="3.80" stroke-linecap="round"/>
<line x1="1689.9" y1="2557.7" x2="1794.9" y2="2557.7" stroke="#000" stroke-width="5.50" stroke-linecap="round"/>
<polygon points="324.9,3108.7 336.9,3132.7 312.9,3132.7" fill="#000"/>
<polygon points="429.9,3108.7 441.9,3132.7 417.9,3132.7" fill="#000"/>
<polygon points="534.9,3108.7 546.9,3132.7 522.9,3132.7" fill="#000"/>
<polygon points="639.9,3108.7 651.9,3132.7 627.9,3132.7" fill="#000"/>
<polygon points="744.9,3108.7 756.9,3132.7 732.9,3132.7" fill="#000"/>
<polygon points="849.9,3108.7 861.9,3132.7 837.9,3132.7" fill="#000"/>
<polygon points="954.9,3108.7 966.9,3132.7 942.9,3132.7" fill="#000"/>
<polygon points="1059.9,3108.7 1071.9,3132.7 1047.9,3132.7" fill="#000"/>
<polygon points="1164.9,3108.7 1176.9,3132.7 1152.9,3132.7" fill="#000"/>
<polygon points="1269.9,3057.5 1281.9,3081.5 1257.9,3081.5" fill="#000"/>
<polygon points="1374.9,3057.5 1386.9,3081.5 1362.9,3081.5" fill="#000"/>
<polygon points="1479.9,3006.3 1491.9,3030.3 1467.9,3030.3" fill="#000"/>
<polygon points="1584.9,3006.3 1596.9,3030.3 1572.9,3030.3" fill="#000"/>
<polygon points="1689.9,3006.3 1701.9,3030.3 1677.9,3030.3" fill="#000"/>
<polygon points="1794.9,3006.3 1806.9,3030.3 1782.9,3030.3" fill="#000"/>
<rect x="312.6" y="3108.4" width="24.6" height="24.6" fill="#000"/>
<rect x="417.6" y="3108.4" width="24.6" height="24.6" fill="#000"/>
<rect x="522.6" y="3108.4" width="24.6" height="24.6" fill="#000"/>
<rect x="627.6" y="3057.2" width="24.6" height="24.6" fill="#000"/>
<rect x="732.6" y="3006.0" width="24.6" height="24.6" fill="#000"/>
<rect x="837.6" y="3006.0" width="24.6" height="24.6" fill="#000"/>
<rect x="942.6" y="3006.0" width="24.6" height="24.6" fill="#000"/>
<rect x="1047.6" y="2954.9" width="24.6" height="24.6" fill="#000"/>
<rect x="1152.6" y="2954.9" width="24.6" height="24.6" fill="#000"/>
<rect x="1257.6" y="2954.9" width="24.6" height="24.6" fill="#000"/>
<rect x="1362.6" y="2903.7" width="24.6" height="24.6" fill="#000"/>
<rect x="1467.6" y="2852.5" width="24.6" height="24.6" fill="#000"/>
<rect x="1572.6" y="2852.5" width="24.6" height="24.6" fill="#000"/>
<rect x="1677.6" y="2852.5" width="24.6" height="24.6" fill="#000"/>
<rect x="1782.6" y="2852.5" width="24.6" height="24.6" fill="#000"/>
<circle cx="324.9" cy="3120.7" r="12.3" fill="#000"/>
<circle cx="429.9" cy="3120.7" r="12.3" fill="#000"/>
<circle cx="534.9" cy="3120.7" r="12.3" fill="#000"/>
<circle cx="639.9" cy="3120.7" r="12.3" fill="#000"/>
<circle cx="744.9" cy="3120.7" r="12.3" fill="#000"/>
<circle cx="849.9" cy="3069.5" r="12.3" fill="#000"/>
<circle cx="954.9" cy="3069.5" r="12.3" fill="#000"/>
<circle cx="1059.9" cy="2967.2" r="12.3" fill="#000"/>
<circle cx="1164.9" cy="2916.0" r="12.3" fill="#000"/>
<circle cx="1269.9" cy="2916.0" r="12.3" fill="#000"/>
<circle cx="1374.9" cy="2813.6" r="12.3" fill="#000"/>
<circle cx="1479.9" cy="2813.6" r="12.3" fill="#000"/>
<circle cx="1584.9" cy="2813.6" r="12.3" fill="#000"/>
<circle cx="1689.9" cy="2557.7" r="12.3" fill="#000"/>
<circle cx="1794.9" cy="2557.7" r="12.3" fill="#000"/>
<line x1="322.0" y1="2448.0" x2="379.0" y2="2448.0" stroke="#000" stroke-width="5"/>
<circle cx="352.2" cy="2448.0" r="12.3" fill="#000"/>
<text x="382.9" y="2462.2" font-size="49" font-family="'Liberation Serif', 'Times New Roman', serif" font-weight="bold">control</text>
<line x1="322.0" y1="2519.7" x2="379.0" y2="2519.7" stroke="#000" stroke-width="5"/>
<rect x="339.9" y="2507.4" width="24.6" height="24.6" fill="#000"/>
<text x="383.9" y="2533.5" font-size="49" font-family="'Liberation Serif', 'Times New Roman', serif" font-weight="bold">Wild</text>
<line x1="322.0" y1="2590.0" x2="379.0" y2="2590.0" stroke="#000" stroke-width="5"/>
<polygon points="352.2,2578.0 364.2,2602.0 340.2,2602.0" fill="#000"/>
<text x="382.0" y="2606.0" font-size="49" font-family="'Liberation Serif', 'Times New Roman', serif" font-weight="bold">SIPG</text>
<text x="1865.7" y="2575.1" font-size="71" font-family="'Liberation Sans', Arial, sans-serif" font-weight="bold">a</text>
<text x="1862.7" y="2886.5" font-size="71" font-family="'Liberation Sans', Arial, sans-serif" font-weight="bold">b</text>
<text x="1865.2" y="3043.6" font-size="71" font-family="'Liberation Sans', Arial, sans-serif" font-weight="bold">c</text>
<text x="864.0" y="3260.5" font-size="49.5" font-family="'Liberation Serif', 'Times New Roman', serif" font-weight="bold">Day post challenge</text>
<g transform="translate(139.6,2762.5) rotate(-90)">
<text x="0.0" y="0.0" font-size="50.6" font-family="'Liberation Serif', 'Times New Roman', serif" font-weight="bold" text-anchor="middle">Cumulative mortality (%)</text>
</g>
</svg>
</body></html>
